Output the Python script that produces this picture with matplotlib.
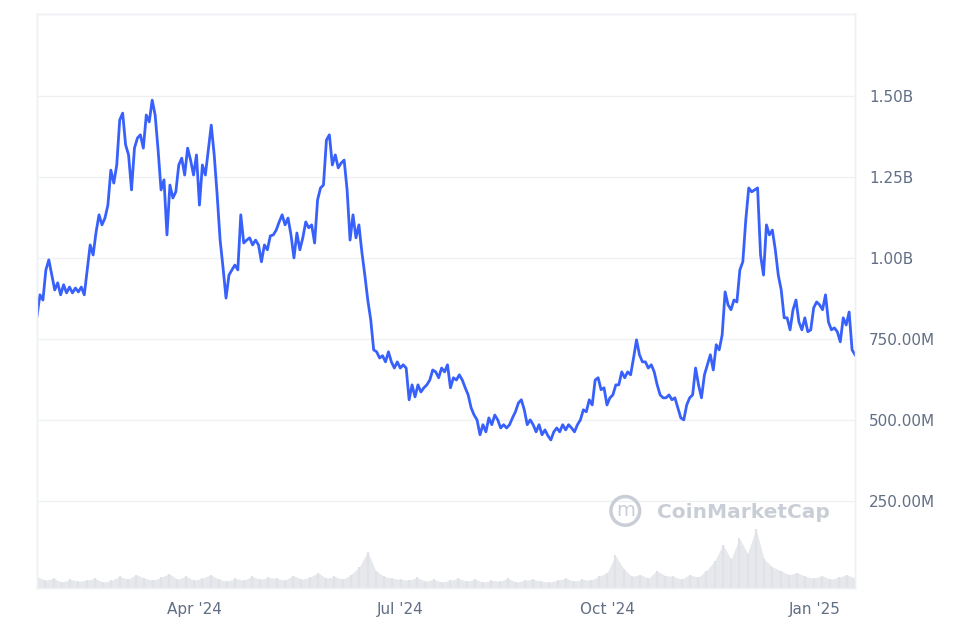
import matplotlib
matplotlib.use("Agg")
import matplotlib.pyplot as plt
import numpy as np
import pandas as pd

# Market cap in millions USD, roughly every ~1.35 days from 2024-01-22 to 2025-01-19
price = [821,886,870,963,994,947,901,923,886,917,892,910,892,907,895,910,886,963,1040,1009,
 1080,1133,1102,1123,1163,1271,1231,1287,1426,1447,1349,1318,1210,1339,1370,1380,1339,1441,1420,1487,
 1441,1333,1210,1241,1071,1225,1185,1204,1287,1308,1256,1339,1302,1256,1318,1163,1287,1256,1333,1410,
 1318,1194,1055,969,876,947,963,978,963,1133,1046,1055,1062,1040,1055,1040,988,1040,1025,1068,
 1071,1086,1111,1133,1102,1123,1071,1000,1077,1025,1062,1111,1093,1102,1046,1179,1216,1225,1364,1380,
 1287,1318,1278,1293,1302,1210,1055,1133,1062,1102,1018,947,870,809,716,710,691,698,679,710,
 679,660,679,660,670,660,562,608,571,608,586,599,608,623,654,648,630,660,648,670,
 599,630,623,639,623,599,577,537,515,500,454,485,463,506,485,515,500,475,485,475,
 485,506,525,552,562,531,485,500,485,463,485,454,469,451,438,463,475,463,485,469,
 485,475,463,485,500,531,525,562,546,623,630,593,599,546,568,577,608,608,648,630,
 648,639,691,747,701,679,679,660,670,648,608,577,568,568,577,562,568,537,506,500,
 546,568,577,660,608,568,639,670,701,654,732,716,762,895,855,840,870,864,963,988,
 1117,1216,1204,1210,1216,1009,947,1102,1071,1086,1025,947,901,815,815,778,840,870,802,778,
 815,772,778,846,864,855,840,886,802,778,784,772,741,815,793,833,716,701]

# Volume (relative units), sampled ~every 4 days
volume = [12,8,10,6,9,7,8,10,6,8,12,9,14,10,8,11,15,9,12,8,10,14,9,7,10,8,12,9,11,10,
 8,13,9,11,16,10,12,9,14,22,38,18,12,10,9,8,11,7,9,6,8,10,7,9,6,8,7,10,6,8,
 9,7,6,8,10,7,9,8,12,16,34,20,12,14,10,18,13,12,9,14,11,18,28,45,30,52,36,62,30,22,
 18,14,16,12,10,13,9,11,14,10]

dates = pd.date_range("2024-01-22", "2025-01-19", periods=len(price))
vdates = pd.date_range("2024-01-22", "2025-01-19", periods=len(volume))

fig = plt.figure(figsize=(9.59, 6.37), dpi=100)
ax = fig.add_axes([0.0386, 0.077, 0.853, 0.901])

axv = ax.twinx()
axv.fill_between(vdates, 0, volume, color="#e6e8ec", lw=0)
axv.vlines(vdates, 0, volume, color="#dfe2e6", lw=1.5)
axv.set_ylim(0, 600)
axv.set_yticks([])
axv.set_zorder(0)
ax.set_zorder(1)
ax.patch.set_visible(False)

ax.plot(dates, price, color="#3861fb", lw=2.0)
ax.set_ylim(-19, 1753)
ax.set_xlim(dates[0], dates[-1])

yt = [250, 500, 750, 1000, 1250, 1500]
ylabels = ["250.00M", "500.00M", "750.00M", "1.00B", "1.25B", "1.50B"]
ax.set_yticks(yt)
ax.set_yticklabels(ylabels)
ax.yaxis.tick_right()
ax.grid(axis="y", color="#eef0f3", lw=1)
ax.tick_params(axis="y", length=0, pad=10, labelsize=11, labelcolor="#616e85")

xt = pd.to_datetime(["2024-04-01", "2024-07-01", "2024-10-01", "2025-01-01"])
ax.set_xticks(xt)
ax.set_xticklabels(["Apr '24", "Jul '24", "Oct '24", "Jan '25"])
ax.tick_params(axis="x", length=0, pad=10, labelsize=11, labelcolor="#616e85")

for a in (ax, axv):
    for s in a.spines.values():
        s.set_color("#eef0f3")
        s.set_linewidth(1)

fig.text(0.685, 0.196, "CoinMarketCap", fontsize=14.5, color="#c9ced6",
         fontweight="semibold", ha="left", va="center")
fig.text(0.652, 0.198, "m", fontsize=14, color="#c9ced6", ha="center", va="center",
         bbox=dict(boxstyle="circle,pad=0.25", fc="none", ec="#c9ced6", lw=2.5))

fig.savefig("out.png", dpi=100)
